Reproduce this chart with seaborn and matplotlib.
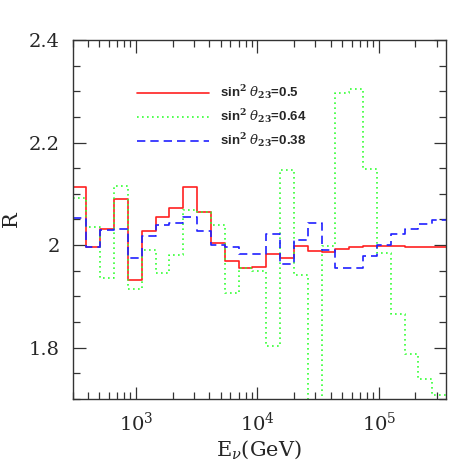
import numpy as np
import pandas as pd
import seaborn as sns
import matplotlib.pyplot as plt
from matplotlib.ticker import MultipleLocator, FuncFormatter, LogLocator

# bin edges in GeV (factor 1.3 per bin)
edges = [300 * 1.3 ** k for k in range(28)]

r_05 = [2.113, 1.996, 2.031, 2.089, 1.932, 2.027, 2.055, 2.072, 2.113, 2.065,
        2.004, 1.969, 1.956, 1.958, 1.982, 1.975, 1.998, 1.989, 1.987, 1.993,
        1.997, 1.999, 1.999, 1.998, 1.997, 1.997, 1.996]
r_064 = [2.091, 2.036, 1.935, 2.116, 1.915, 1.990, 1.946, 1.980, 2.068, 2.064,
         2.040, 1.907, 1.956, 1.949, 1.803, 2.147, 1.942, 1.600, 1.999, 2.296,
         2.305, 2.148, 1.985, 1.865, 1.787, 1.738, 1.708]
r_038 = [2.053, 1.996, 2.029, 2.032, 1.975, 2.018, 2.039, 2.043, 2.054, 2.027,
         2.000, 1.997, 1.982, 1.982, 2.022, 1.964, 2.010, 2.043, 1.991, 1.956,
         1.956, 1.978, 2.001, 2.021, 2.032, 2.042, 2.049]

labels = [r"sin$^{\bf 2}$ $\theta_{\bf 23}$=0.5",
          r"sin$^{\bf 2}$ $\theta_{\bf 23}$=0.64",
          r"sin$^{\bf 2}$ $\theta_{\bf 23}$=0.38"]

rows = []
for lab, vals in zip(labels, [r_05, r_064, r_038]):
    ys = vals + [vals[-1]]
    for e, v in zip(edges, ys):
        rows.append({"E": e, "R": v, "case": lab})
df = pd.DataFrame(rows)

sns.set_style("ticks")
plt.rcParams['font.family'] = ['DejaVu Serif']
plt.rcParams['mathtext.fontset'] = 'dejavuserif'

fig = plt.figure(figsize=(4.71, 4.71), dpi=100)
ax = fig.add_axes([0.154, 0.153, 0.793, 0.762])

palette = {labels[0]: "#ff2020", labels[1]: "#33ff33", labels[2]: "#2020ff"}
dashes = {labels[0]: "", labels[1]: (1, 2), labels[2]: (5, 3)}
sns.lineplot(data=df, x="E", y="R", hue="case", style="case", palette=palette,
             dashes=dashes, drawstyle="steps-post", linewidth=1.2, ax=ax,
             sort=True, estimator=None)

ax.set_xscale("log")
ax.set_xlim(300, edges[-1])
ax.set_ylim(1.7, 2.4)

ax.yaxis.set_major_locator(MultipleLocator(0.2))
ax.yaxis.set_minor_locator(MultipleLocator(0.05))
ax.yaxis.set_major_formatter(FuncFormatter(lambda v, p: f"{v:g}"))
ax.xaxis.set_major_locator(LogLocator(base=10))
ax.xaxis.set_minor_locator(LogLocator(base=10, subs=np.arange(2, 10)))

ax.tick_params(which="both", direction="in", top=True, right=True,
               labelsize=14, pad=9, width=0.9, color="#333333")
ax.tick_params(which="major", length=9)
ax.tick_params(which="minor", length=5)
for s in ax.spines.values():
    s.set_linewidth(1.0)
    s.set_color("#333333")

ax.set_xlabel(r"E$_\nu$(GeV)", fontsize=15, labelpad=3)
ax.set_ylabel("R", fontsize=15, labelpad=6)

leg = ax.legend(loc="upper left", bbox_to_anchor=(0.14, 0.912), frameon=False,
                handlelength=5.5, handletextpad=0.8, labelspacing=0.45,
                prop={"family": "Liberation Sans", "weight": "bold", "size": 9.5})

fig.savefig("out.png", dpi=100)
